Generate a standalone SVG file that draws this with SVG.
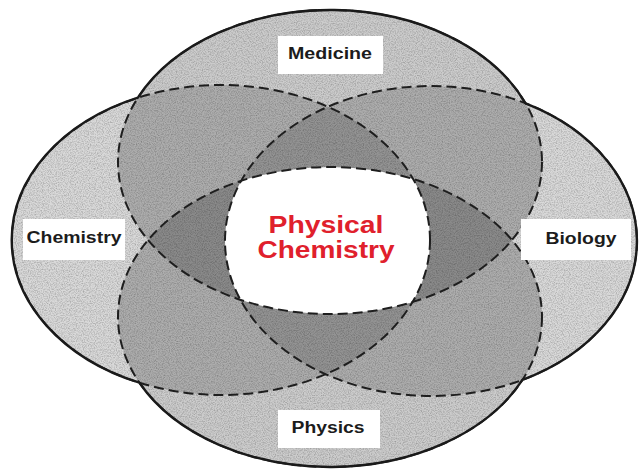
<svg xmlns="http://www.w3.org/2000/svg" width="643" height="471" viewBox="0 0 643 471">
  <style>
    .fillM { fill: #000; fill-opacity: 0.2; }
    .fillC { fill: #000; fill-opacity: 0.15; }
    .dash { fill: none; stroke: #1e1e1e; stroke-width: 2; stroke-dasharray: 10 5; }
    .solid { fill: none; stroke: #1a1a1a; stroke-width: 2.4; }
    .box { fill: #ffffff; }
    .lbl { font-family: "Liberation Sans", Arial, sans-serif; font-weight: bold; font-size: 16px; fill: #1c1c1c; text-anchor: middle; }
    .core { font-family: "Liberation Sans", Arial, sans-serif; font-weight: bold; font-size: 23px; fill: #e0202c; text-anchor: middle; }
  </style>
  <defs>
    <clipPath id="clipM"><ellipse cx="330" cy="162" rx="212" ry="152"/></clipPath>
    <clipPath id="clipC"><ellipse cx="221" cy="240" rx="209" ry="155"/></clipPath>
    <clipPath id="clipB"><ellipse cx="431" cy="241" rx="206" ry="155"/></clipPath>
    <clipPath id="clipU"><path d="M137.9,97.6 A212,152 0 0 1 525.5,103.3 A206,155 0 0 1 522.4,379.9 A212,150 0 0 1 139.4,382.7 A209,155 0 0 1 137.9,97.6 Z"/></clipPath>
    <filter id="noise" x="0" y="0" width="100%" height="100%">
      <feTurbulence type="fractalNoise" baseFrequency="0.85" numOctaves="2" seed="7"/>
      <feColorMatrix type="matrix" values="0 0 0 0 0  0 0 0 0 0  0 0 0 0 0  1.6 0 0 0 -0.62"/>
    </filter>
  </defs>
  <rect width="643" height="471" fill="#ffffff"/>

  <g id="sets">
    <ellipse id="set-medicine" class="fillM" cx="330" cy="162" rx="212" ry="152"/>
    <ellipse id="set-physics" class="fillM" cx="330" cy="317" rx="212" ry="150"/>
    <ellipse id="set-chemistry" class="fillC" cx="221" cy="240" rx="209" ry="155"/>
    <ellipse id="set-biology" class="fillC" cx="431" cy="241" rx="206" ry="155"/>
    <rect x="0" y="0" width="643" height="471" filter="url(#noise)" clip-path="url(#clipU)" opacity="0.3"/>
    <g clip-path="url(#clipM)"><g clip-path="url(#clipC)"><g clip-path="url(#clipB)">
      <ellipse id="core-region" cx="330" cy="317" rx="212" ry="150" fill="#ffffff"/>
    </g></g></g>
  </g>

  <g id="connectors">
    <ellipse class="dash" cx="330" cy="162" rx="212" ry="152"/>
    <ellipse class="dash" cx="330" cy="317" rx="212" ry="150"/>
    <ellipse class="dash" cx="221" cy="240" rx="209" ry="155"/>
    <ellipse class="dash" cx="431" cy="241" rx="206" ry="155"/>
    <path class="solid" d="M137.9,97.6 A212,152 0 0 1 525.5,103.3 A206,155 0 0 1 522.4,379.9 A212,150 0 0 1 139.4,382.7 A209,155 0 0 1 137.9,97.6 Z"/>
  </g>

  <g id="medicine">
    <rect class="box" x="278" y="36" width="105" height="38"/>
    <text class="lbl" x="330" y="59" textLength="84" lengthAdjust="spacingAndGlyphs">Medicine</text>
  </g>
  <g id="chemistry">
    <rect class="box" x="23" y="219" width="102" height="41"/>
    <text class="lbl" x="74" y="243" textLength="95" lengthAdjust="spacingAndGlyphs">Chemistry</text>
  </g>
  <g id="biology">
    <rect class="box" x="521" y="219" width="110" height="41"/>
    <text class="lbl" x="581" y="244" textLength="71" lengthAdjust="spacingAndGlyphs">Biology</text>
  </g>
  <g id="physics">
    <rect class="box" x="278" y="410" width="102" height="38"/>
    <text class="lbl" x="328" y="433" textLength="73" lengthAdjust="spacingAndGlyphs">Physics</text>
  </g>
  <g id="physical-chemistry">
    <text class="core" x="326" y="233" textLength="115" lengthAdjust="spacingAndGlyphs">Physical</text>
    <text class="core" x="326" y="258" textLength="137" lengthAdjust="spacingAndGlyphs">Chemistry</text>
  </g>
</svg>
